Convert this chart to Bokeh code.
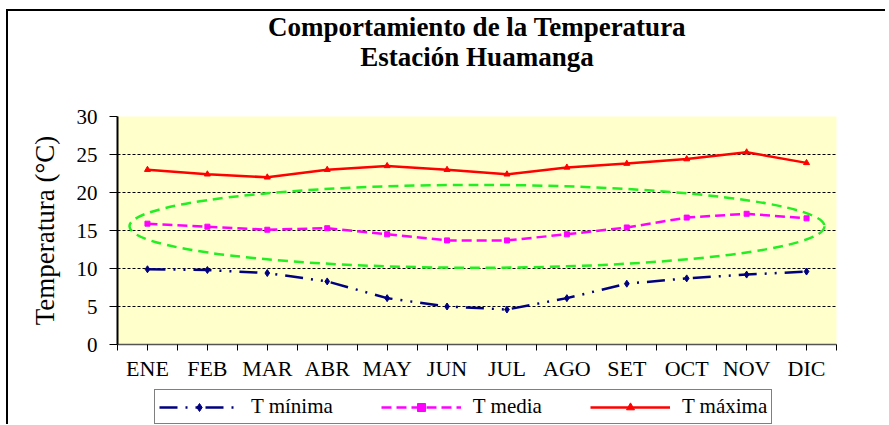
from bokeh.plotting import figure
from bokeh.layouts import column
from bokeh.models import (Range1d, FixedTicker, Legend, LegendItem, Title, ColumnDataSource)
from bokeh.embed import file_html
from bokeh.resources import INLINE

# ---- data ----
meses = ["ENE", "FEB", "MAR", "ABR", "MAY", "JUN", "JUL", "AGO", "SET", "OCT", "NOV", "DIC"]
t_minima = [9.9, 9.8, 9.4, 8.3, 6.1, 5.0, 4.6, 6.1, 8.0, 8.7, 9.2, 9.6]
t_media = [15.9, 15.5, 15.1, 15.3, 14.5, 13.7, 13.7, 14.5, 15.4, 16.7, 17.2, 16.6]
t_maxima = [23.0, 22.4, 22.0, 23.0, 23.5, 23.0, 22.4, 23.3, 23.8, 24.4, 25.3, 23.9]
y_ticks = [0, 5, 10, 15, 20, 25, 30]
series_names = ["T mínima", "T media", "T máxima"]
titulo1 = "Comportamiento de la Temperatura"
titulo2 = "Estación Huamanga"
eje_y = "Temperatura (°C)"

# highlighted region (ellipse) in data units
elipse_x, elipse_y, elipse_w, elipse_h = 6.0, 15.55, 11.6, 10.9

xpos = [i + 0.5 for i in range(len(meses))]
src = ColumnDataSource(dict(x=xpos, tmin=t_minima, tmed=t_media, tmax=t_maxima))

SERIF = "Liberation Serif"
styles_min = dict(color="#000080", dash="18 8 2 8 2 8", marker="diamond", size=7)
styles_med = dict(color="#FF00FF", dash="10 5", marker="square", size=5)
styles_max = dict(color="#FF0000", dash="solid", marker="triangle", size=6)
series = [("tmin", styles_min), ("tmed", styles_med), ("tmax", styles_max)]

p = figure(width=877, height=371, output_backend="svg", toolbar_location=None,
           x_range=Range1d(0, 12), y_range=Range1d(0, 30),
           frame_width=719, frame_height=228,
           min_border_left=109, min_border_right=49, min_border_top=102, min_border_bottom=40)

p.background_fill_color = "#FFFFCC"
p.border_fill_color = "white"
p.outline_line_color = None

# grid
p.xgrid.grid_line_color = None
p.ygrid.ticker = FixedTicker(ticks=y_ticks)
p.ygrid.grid_line_color = "black"
p.ygrid.grid_line_dash = "3 2"
p.ygrid.grid_line_width = 1

# axes
p.yaxis.ticker = FixedTicker(ticks=y_ticks)
p.yaxis.axis_line_color = "black"
p.yaxis.axis_line_width = 2
p.yaxis.major_tick_out = 8
p.yaxis.major_tick_in = 0
p.yaxis.minor_tick_line_color = None
p.yaxis.major_label_text_font = SERIF
p.yaxis.major_label_text_font_size = "21px"
p.yaxis.major_label_text_color = "black"
p.yaxis.major_label_standoff = 12
p.yaxis.axis_label = eje_y
p.yaxis.axis_label_text_font = SERIF
p.yaxis.axis_label_text_font_size = "27px"
p.yaxis.axis_label_text_font_style = "normal"
p.yaxis.axis_label_text_color = "black"
p.yaxis.axis_label_standoff = 14

xt = [i * 0.5 for i in range(2 * len(meses) + 1)]
p.xaxis.ticker = FixedTicker(ticks=xt)
over = {}
for t in xt:
    over[t] = ""
for xv, m in zip(xpos, meses):
    over[xv] = m
p.xaxis.major_label_overrides = over
p.xaxis.axis_line_color = "#555555"
p.xaxis.axis_line_width = 1.5
p.xaxis.major_tick_out = 6
p.xaxis.major_tick_in = 0
p.xaxis.major_tick_line_color = "black"
p.xaxis.minor_tick_line_color = None
p.xaxis.major_label_text_font = SERIF
p.xaxis.major_label_text_font_size = "22px"
p.xaxis.major_label_text_color = "black"
p.xaxis.major_label_standoff = 5

# ellipse
p.ellipse(x=elipse_x, y=elipse_y, width=elipse_w, height=elipse_h,
          fill_color=None, line_color="#22EE22", line_width=2.5, line_dash="10 6")

# series
for col, st in series:
    p.line("x", col, source=src, line_color=st["color"], line_width=2.5, line_dash=st["dash"])
    p.scatter("x", col, source=src, marker=st["marker"], size=st["size"], color=st["color"])

# two-line title (spacer first, nearest to the frame)
p.add_layout(Title(text=" ", align="center", text_font=SERIF, text_font_size="27px",
                   standoff=14), "above")
p.add_layout(Title(text=titulo2, align="center", text_font=SERIF, text_font_size="27px",
                   text_font_style="bold", text_color="black", standoff=-2), "above")
p.add_layout(Title(text=titulo1, align="center", text_font=SERIF, text_font_size="27px",
                   text_font_style="bold", text_color="black", standoff=-3), "above")

# legend strip (separate figure under the chart; its series lie outside its visible range)
lf = figure(width=877, height=40, output_backend="svg", toolbar_location=None,
            x_range=Range1d(0, 12), y_range=Range1d(100, 101),
            min_border_left=0, min_border_right=0, min_border_top=0, min_border_bottom=0)
lf.axis.visible = False
lf.grid.visible = False
lf.outline_line_color = None
lf.background_fill_color = "white"
lf.border_fill_color = "white"
items = []
for name, (col, st) in zip(series_names, series):
    r1 = lf.line("x", col, source=src, line_color=st["color"], line_width=2.5, line_dash=st["dash"])
    r2 = lf.scatter("x", col, source=src, marker=st["marker"], size=st["size"], color=st["color"])
    items.append(LegendItem(label=name, renderers=[r1, r2]))
legend = Legend(items=items, orientation="horizontal", location=(37, 0),
                glyph_width=80, glyph_height=20, label_standoff=12, spacing=48,
                padding=4, margin=0,
                label_text_font=SERIF, label_text_font_size="21px", label_text_color="black",
                border_line_color="black", border_line_width=1.5,
                background_fill_color="white", background_fill_alpha=1)
lf.add_layout(legend, "center")

layout = column(p, lf, spacing=0)
layout.margin = (9, 0, 0, 6)
layout.styles = {"border-top": "2px solid black", "border-left": "2px solid black"}

open("out.html", "w").write(file_html(layout, INLINE))
